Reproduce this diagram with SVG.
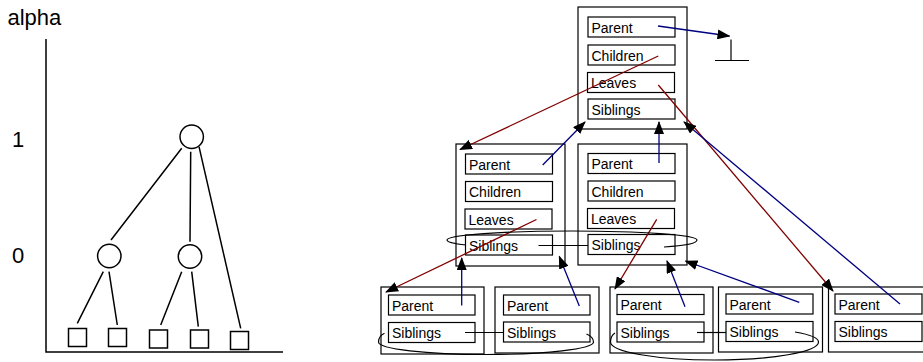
<svg xmlns="http://www.w3.org/2000/svg" width="923" height="362" viewBox="0 0 923 362">
<defs>
<marker id="ah" markerWidth="13" markerHeight="10" refX="12" refY="5" orient="auto" markerUnits="userSpaceOnUse"><path d="M0,0 L13,5 L0,10 z" fill="#000"/></marker>
</defs>
<style>
.lbl{font-family:"Liberation Sans",Arial,sans-serif;font-size:14px;fill:#000}
.big{font-family:"Liberation Sans",Arial,sans-serif;font-size:22px;fill:#000}
.box{fill:#fff;stroke:#000;stroke-width:1.2}
.cont{fill:#fff;stroke:#000;stroke-width:1.2}
.tree{stroke:#000;stroke-width:1.5;fill:none}
.tn{stroke:#000;stroke-width:1.5;fill:#fff}
.nav{stroke:#000080;stroke-width:1.3;fill:none;marker-end:url(#ah)}
.red{stroke:#800000;stroke-width:1.3;fill:none;marker-end:url(#ah)}
.blk{stroke:#000;stroke-width:1.2;fill:none}
</style>
<rect width="923" height="362" fill="#fff"/>

<!-- left tree -->
<g id="axes">
<text class="big" x="7.5" y="25">alpha</text>
<text class="big" x="12" y="146.5">1</text>
<text class="big" x="12" y="263">0</text>
<path class="tree" d="M46,39 V352 H283"/>
</g>
<g id="tree-edges">
<path class="tree" d="M181.7,148.3 L111,240 M190.7,151.7 L190,241.7 M199,146.7 L240.7,328.3 M103.3,271.7 L77.3,323.3 M109,271.7 L117.3,325 M181.7,271.7 L160.7,325 M191.7,271.7 L198.3,326.7"/>
</g>
<g id="n-root"><circle class="tn" cx="191.7" cy="136.7" r="11.7"/></g>
<g id="n-a"><circle class="tn" cx="109.3" cy="256" r="11.7"/></g>
<g id="n-b"><circle class="tn" cx="190" cy="256.5" r="11.7"/></g>
<g id="leaf1"><rect class="tn" x="68.5" y="328.5" width="18" height="18"/></g>
<g id="leaf2"><rect class="tn" x="108.5" y="328.5" width="18" height="18"/></g>
<g id="leaf3"><rect class="tn" x="149.5" y="330" width="18" height="18"/></g>
<g id="leaf4"><rect class="tn" x="190.5" y="330" width="18" height="18"/></g>
<g id="leaf5"><rect class="tn" x="230.5" y="331.5" width="18" height="18"/></g>

<!-- right structure -->
<g id="top">
<rect class="cont" x="578" y="7" width="109" height="122"/>
<rect class="box" x="588" y="17" width="87" height="20"/><text class="lbl" x="591.5" y="32.5">Parent</text>
<rect class="box" x="588" y="45" width="87" height="20"/><text class="lbl" x="591.5" y="60.5">Children</text>
<rect class="box" x="587.5" y="72.5" width="87" height="20"/><text class="lbl" x="591" y="88">Leaves</text>
<rect class="box" x="588" y="99" width="87" height="20"/><text class="lbl" x="591.5" y="114.5">Siblings</text>
</g>
<g id="midL">
<rect class="cont" x="456" y="144" width="109" height="122"/>
<rect class="box" x="465.5" y="154" width="87" height="20"/><text class="lbl" x="469" y="169.5">Parent</text>
<rect class="box" x="465.5" y="181.5" width="87" height="20"/><text class="lbl" x="469" y="197">Children</text>
<rect class="box" x="465" y="209" width="87" height="20"/><text class="lbl" x="468.5" y="224.5">Leaves</text>
<rect class="box" x="465.5" y="235" width="87" height="20"/><text class="lbl" x="469" y="250.5">Siblings</text>
</g>
<g id="midR">
<rect class="cont" x="578" y="144" width="109" height="121"/>
<rect class="box" x="588" y="153.5" width="87" height="20"/><text class="lbl" x="591.5" y="169">Parent</text>
<rect class="box" x="588" y="181" width="87" height="20"/><text class="lbl" x="591.5" y="196.5">Children</text>
<rect class="box" x="587.5" y="208.5" width="87" height="20"/><text class="lbl" x="591" y="224">Leaves</text>
<rect class="box" x="588" y="234.5" width="87" height="20"/><text class="lbl" x="591.5" y="250">Siblings</text>
</g>
<g id="b1">
<rect class="cont" x="381" y="287" width="103" height="67"/>
<rect class="box" x="388.5" y="295" width="86.5" height="20"/><text class="lbl" x="392" y="310.5">Parent</text>
<rect class="box" x="388.5" y="322.5" width="86.5" height="20"/><text class="lbl" x="392" y="338">Siblings</text>
</g>
<g id="b2">
<rect class="cont" x="495" y="287" width="104" height="66"/>
<rect class="box" x="503.5" y="295" width="86.5" height="20"/><text class="lbl" x="507" y="310.5">Parent</text>
<rect class="box" x="503.5" y="322" width="86.5" height="20"/><text class="lbl" x="507" y="337.5">Siblings</text>
</g>
<g id="b3">
<rect class="cont" x="610" y="287" width="103" height="66"/>
<rect class="box" x="617" y="294.5" width="87" height="20"/><text class="lbl" x="620.5" y="310">Parent</text>
<rect class="box" x="617" y="322" width="87" height="20"/><text class="lbl" x="620.5" y="337.5">Siblings</text>
</g>
<g id="b4">
<rect class="cont" x="718.5" y="287" width="104" height="65"/>
<rect class="box" x="726" y="294" width="87" height="20"/><text class="lbl" x="729.5" y="309.5">Parent</text>
<rect class="box" x="726" y="321.5" width="87" height="20"/><text class="lbl" x="729.5" y="337">Siblings</text>
</g>
<g id="b5">
<rect class="cont" x="828.5" y="287" width="104" height="65"/>
<rect class="box" x="835" y="294" width="87" height="20"/><text class="lbl" x="838.5" y="309.5">Parent</text>
<rect class="box" x="835" y="321.5" width="87" height="20"/><text class="lbl" x="838.5" y="337">Siblings</text>
</g>
<g id="ground">
<path class="blk" d="M731,39.5 V60.5 M715,60.5 H749"/>
</g>

<g id="connectors">
<path class="nav" d="M658,26 L729.5,36"/>
<path class="red" d="M658.3,56 L460,149.5"/>
<path class="red" d="M658.3,85 L833,291"/>
<path class="nav" d="M542.7,165 L585,122"/>
<path class="nav" d="M659,163 L659,122"/>
<path class="nav" d="M900,304 L684,122"/>
<path class="red" d="M536.5,219.5 L386,292"/>
<path class="nav" d="M461.7,305.5 L461.7,258"/>
<path class="nav" d="M579.3,306 L559.3,256.5"/>
<path class="red" d="M656.7,219.3 L615,289"/>
<path class="nav" d="M685,306.7 L667,261"/>
<path class="nav" d="M799.3,302.3 L685.5,261"/>
<path class="blk" d="M538.5,245.5 H588"/>
<path class="blk" d="M465,332.5 H503.5"/>
<path class="blk" d="M697,332.5 H726"/>
<path class="blk" d="M664,247 Q697,245 697,240 A125,9 0 0 0 447,240 Q447,243 466,245"/>
<path class="blk" d="M384.5,333.3 Q378.5,336 378.5,342 A107.5,12.5 0 0 0 593.5,342 Q593.5,337 586.5,334"/>
<path class="blk" d="M615,333 Q610.5,336 610.5,342 A104,18 0 0 0 818.5,342 Q818.5,336 795,332"/>
</g>
</svg>
